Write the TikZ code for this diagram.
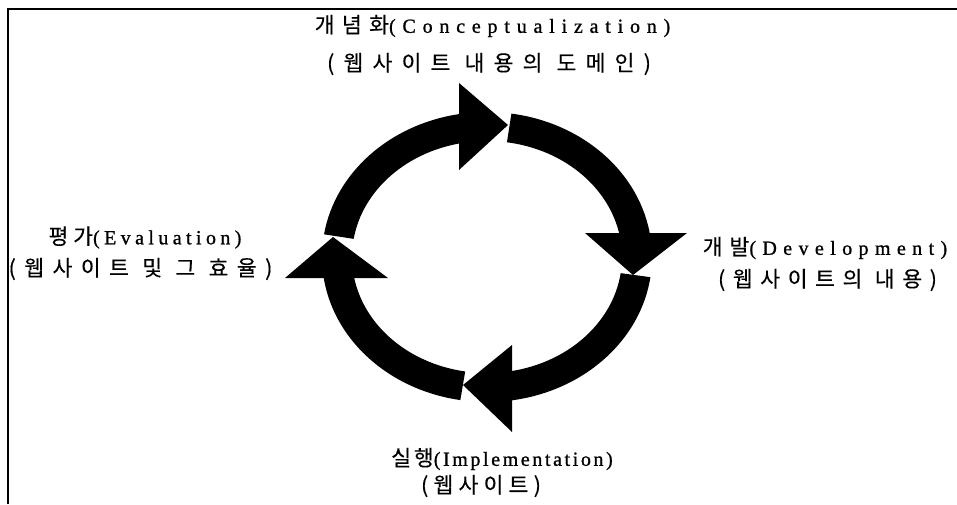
\documentclass[tikz,border=0pt]{standalone}
\usepackage{fontspec}
\setmainfont{Liberation Serif}
\usetikzlibrary{calc}
\newcommand\KR[2]{{\fontspec{Noto Sans CJK KR}[LetterSpace=#1,Scale=1.08,FakeBold=0.25]#2}}
\newcommand\LT[2]{{\fontspec{Liberation Serif}[LetterSpace=#1,FakeBold=1]#2}}
\newcommand\ringshaft[2]{%
  \fill[ringfill] ($(C)+(#1:165 and 145)$)
    arc[start angle=#1, end angle=#2, x radius=165, y radius=145]
    -- ($(C)+(#2:135 and 116)$)
    arc[start angle=#2, end angle=#1, x radius=135, y radius=116] -- cycle;}
\tikzset{
  lab/.style={inner sep=0pt, font=\fontsize{20}{23}\selectfont, anchor=center},
  ringfill/.style={fill=black},
  frame/.style={line width=1.5pt}
}
\begin{document}
\begin{tikzpicture}[x=1pt,y=1pt]
\useasboundingbox (0,0) rectangle (957,504);
\draw[frame] (8,0) -- (8,495) -- (957,495);
\coordinate (C) at (487,247);
% shafts
\ringshaft{171}{99}
\ringshaft{81.5}{8}
\ringshaft{-8}{-82}
\ringshaft{-99.3}{-173}
% heads
\coordinate (ht1) at (459,421); \coordinate (ht2) at (459,334); \coordinate (ht3) at (508,379);
\coordinate (hr1) at (585,271); \coordinate (hr2) at (687,271); \coordinate (hr3) at (633,229);
\coordinate (hb1) at (512,159); \coordinate (hb2) at (512,72);  \coordinate (hb3) at (463,119);
\coordinate (hl1) at (285,226); \coordinate (hl2) at (388,226); \coordinate (hl3) at (333,267);
\fill[ringfill] (ht1) -- (ht2) -- (ht3) -- cycle;
\fill[ringfill] (hr1) -- (hr2) -- (hr3) -- cycle;
\fill[ringfill] (hb1) -- (hb2) -- (hb3) -- cycle;
\fill[ringfill] (hl1) -- (hl2) -- (hl3) -- cycle;
% labels
\node[lab] (n1) at (492.5,478) {\KR{34}{개념화}\LT{34}{(Conceptualization)}};
\node[lab] (n2) at (489,440) {\KR{42.5}{(웹사이트 내용의 도메인)}};
\node[lab] (n3) at (145,266.5) {\KR{22}{평가}\LT{22}{(Evaluation)}};
\node[lab] (n4) at (140.5,235) {\KR{39}{(웹사이트 및 그 효율)}};
\node[lab] (n5) at (825,256) {\KR{32}{개발}\LT{32}{(Development)}};
\node[lab] (n6) at (827.5,224) {\KR{35}{(웹사이트의 내용)}};
\node[lab] (n7) at (502,45) {\KR{13}{실행}\LT{13}{(Implementation)}};
\node[lab] (n8) at (481,18) {\KR{24}{(웹사이트)}};
\end{tikzpicture}
\end{document}
